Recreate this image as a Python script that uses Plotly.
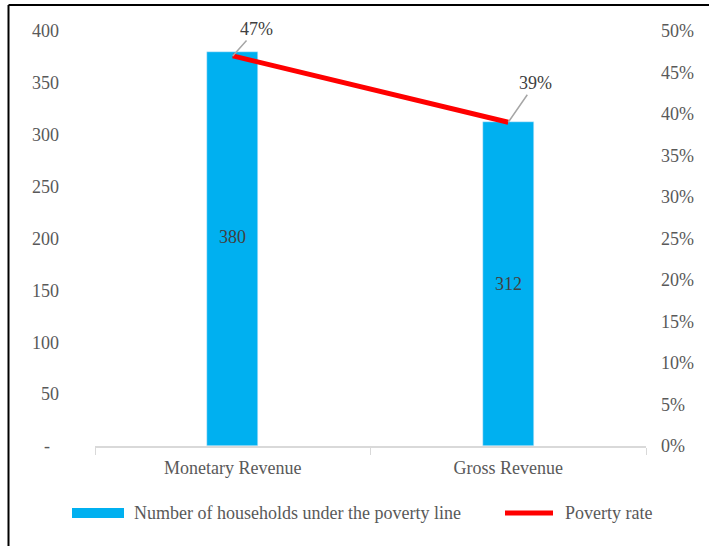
import plotly.graph_objects as go

# Data
categories = ["Monetary Revenue", "Gross Revenue"]
households = [380, 312]
poverty_rate = [0.47, 0.39]
left_ticks = [0, 50, 100, 150, 200, 250, 300, 350, 400]
left_tick_text = ["-\u00a0\u00a0", "50", "100", "150", "200", "250", "300", "350", "400"]
right_ticks = [0, 0.05, 0.10, 0.15, 0.20, 0.25, 0.30, 0.35, 0.40, 0.45, 0.50]
right_tick_text = ["0%", "5%", "10%", "15%", "20%", "25%", "30%", "35%", "40%", "45%", "50%"]
legend_labels = ["Number of households under the poverty line", "Poverty rate"]

BLUE = "#00B0F0"
RED = "#FF0000"
TXT = "#595959"
DARK = "#404040"
FONT = "Liberation Serif"
FS = 18

W, H = 709, 546
L, R, T, B = 95, 63, 31, 100
pw, ph = W - L - R, H - T - B


def px(x):
    return (x - L) / pw


def py(y):
    return (H - B - y) / ph


fig = go.Figure()
fig.add_trace(go.Bar(
    x=categories, y=households, marker_color=BLUE, width=0.185,
    textposition="none", showlegend=False, yaxis="y",
))
fig.add_trace(go.Scatter(
    x=categories, y=poverty_rate, mode="lines",
    line=dict(color=RED, width=5), showlegend=False, yaxis="y2",
))

# Value labels inside the bars
label_shift = [12, 0]
for cat, val, sh in zip(categories, households, label_shift):
    fig.add_annotation(x=cat, y=val / 2, xref="x", yref="y", text=str(val),
                       showarrow=False, yshift=sh,
                       font=dict(family=FONT, size=FS, color=DARK))

# Percentage labels with leader lines
offsets = [(24, -27), (27, -39)]
for cat, val, (ax, ay) in zip(categories, poverty_rate, offsets):
    fig.add_annotation(
        x=cat, y=val, xref="x", yref="y2", text=f"{round(val * 100)}%",
        showarrow=True, arrowhead=0, arrowwidth=1.5, arrowcolor="#A6A6A6",
        ax=ax, ay=ay, font=dict(family=FONT, size=FS, color=DARK),
    )

# Legend drawn below the axis
fig.add_shape(type="rect", xref="paper", yref="paper",
              x0=px(72), x1=px(124), y0=py(518), y1=py(508),
              fillcolor=BLUE, line=dict(width=0))
fig.add_annotation(xref="paper", yref="paper", x=px(132), y=py(513),
                   text=legend_labels[0], showarrow=False,
                   xanchor="left", yanchor="middle",
                   font=dict(family=FONT, size=FS, color=TXT))
fig.add_shape(type="line", xref="paper", yref="paper",
              x0=px(505), x1=px(553), y0=py(513), y1=py(513),
              line=dict(color=RED, width=5))
fig.add_annotation(xref="paper", yref="paper", x=px(563), y=py(513),
                   text=legend_labels[1], showarrow=False,
                   xanchor="left", yanchor="middle",
                   font=dict(family=FONT, size=FS, color=TXT))

# Outer frame (left and top edges)
fig.add_shape(type="line", xref="paper", yref="paper",
              x0=px(8.5), x1=px(8.5), y0=py(5), y1=py(H + 2),
              line=dict(color="black", width=2))
fig.add_shape(type="line", xref="paper", yref="paper",
              x0=px(8.5), x1=px(W + 2), y0=py(5), y1=py(5),
              line=dict(color="black", width=2))

fig.update_layout(
    width=W, height=H, margin=dict(l=L, r=R, t=T, b=B),
    paper_bgcolor="white", plot_bgcolor="white",
    font=dict(family=FONT, size=FS, color=TXT),
    bargap=0,
    xaxis=dict(
        showline=True, linecolor="#D9D9D9", linewidth=1.5,
        ticks="outside", tickson="boundaries", ticklen=7, tickcolor="#D9D9D9",
        ticklabelstandoff=5,
        tickfont=dict(family=FONT, size=FS, color=TXT), showgrid=False,
    ),
    yaxis=dict(
        range=[0, 400], tickvals=left_ticks, ticktext=left_tick_text,
        showgrid=False, zeroline=False, showline=False, ticks="",
        ticklabelstandoff=35, tickfont=dict(family=FONT, size=FS, color=TXT),
    ),
    yaxis2=dict(
        range=[0, 0.5], tickvals=right_ticks, ticktext=right_tick_text,
        overlaying="y", side="right", showgrid=False, zeroline=False,
        showline=False, ticks="", ticklabelstandoff=14,
        tickfont=dict(family=FONT, size=FS, color=TXT),
    ),
)

fig.write_html("out.html")
